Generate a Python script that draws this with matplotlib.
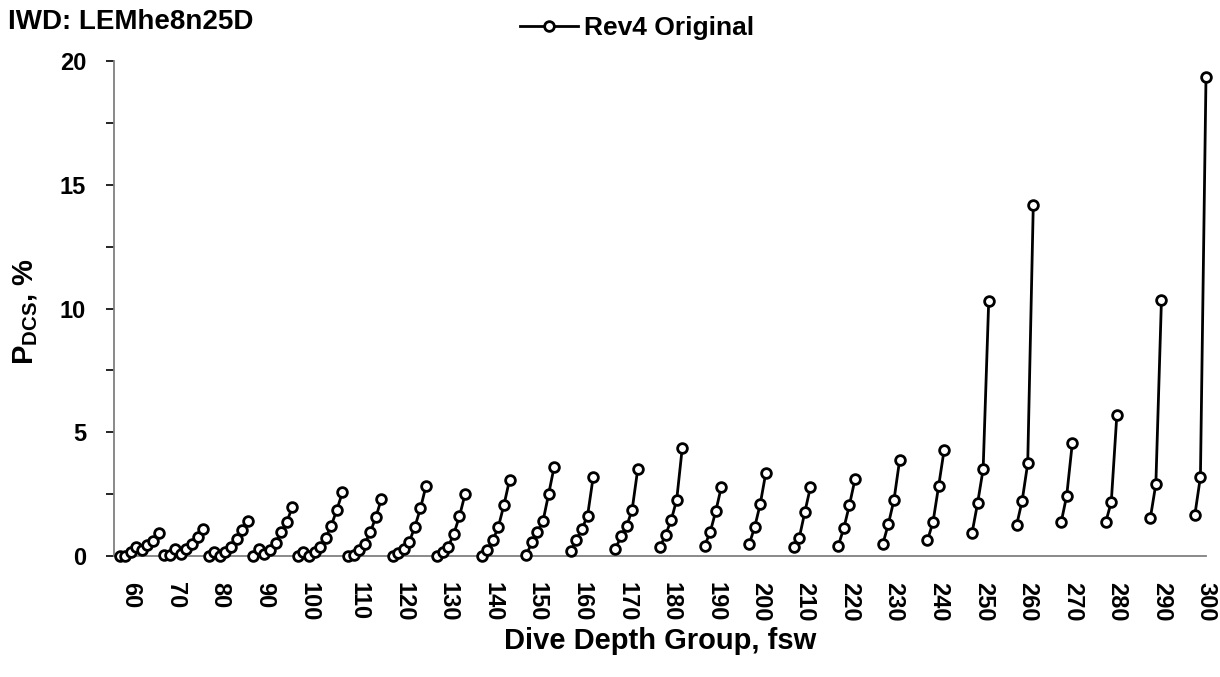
import matplotlib
matplotlib.use("Agg")
import matplotlib.pyplot as plt
from matplotlib.ticker import MultipleLocator
import numpy as np

# ---- data -------------------------------------------------------------
depth_groups = [60, 70, 80, 90, 100, 110, 120, 130, 140, 150, 160, 170, 180,
                190, 200, 210, 220, 230, 240, 250, 260, 270, 280, 290, 300]
points_per_group = [8, 8, 8, 8, 9, 7, 7, 6, 6, 6, 5, 5, 5,
                    4, 4, 4, 4, 4, 4, 4, 4, 3, 3, 3, 3]
slots_per_group = [8, 8, 8, 8, 9, 8, 8, 8, 8, 8, 8, 8, 8,
                   8, 8, 8, 8, 8, 8, 8, 8, 8, 8, 8, 8]
pdcs_values = [
    0.02, 0.02, 0.16, 0.37, 0.23, 0.45, 0.61, 0.94,          # 60
    0.03, 0.03, 0.27, 0.10, 0.27, 0.49, 0.78, 1.09,          # 70
    0.02, 0.15, 0.02, 0.17, 0.36, 0.67, 1.04, 1.43,          # 80
    0.02, 0.29, 0.08, 0.23, 0.53, 0.95, 1.37, 1.97,          # 90
    0.02, 0.15, 0.02, 0.15, 0.36, 0.74, 1.23, 1.87, 2.57,    # 100
    0.02, 0.06, 0.25, 0.50, 0.96, 1.57, 2.31,                # 110
    0.02, 0.12, 0.30, 0.57, 1.18, 1.92, 2.83,                # 120
    0.02, 0.15, 0.38, 0.90, 1.60, 2.49,                      # 130
    0.02, 0.25, 0.63, 1.19, 2.07, 3.08,                      # 140
    0.03, 0.56, 0.96, 1.41, 2.49, 3.60,                      # 150
    0.22, 0.65, 1.10, 1.63, 3.18,                            # 160
    0.29, 0.79, 1.20, 1.87, 3.50,                            # 170
    0.36, 0.86, 1.44, 2.28, 4.38,                            # 180
    0.40, 0.96, 1.80, 2.78,                                  # 190
    0.47, 1.17, 2.11, 3.37,                                  # 200
    0.36, 0.74, 1.78, 2.78,                                  # 210
    0.42, 1.13, 2.06, 3.10,                                  # 220
    0.49, 1.30, 2.27, 3.86,                                  # 230
    0.63, 1.37, 2.81, 4.29,                                  # 240
    0.92, 2.13, 3.51, 10.30,                                 # 250
    1.24, 2.23, 3.74, 14.18,                                 # 260
    1.36, 2.44, 4.55,                                        # 270
    1.36, 2.19, 5.70,                                        # 280
    1.52, 2.91, 10.33,                                       # 290
    1.66, 3.20, 19.37,                                       # 300
]
series_name = "Rev4 Original"
chart_title = "IWD: LEMhe8n25D"
x_title = "Dive Depth Group, fsw"

# ---- style ------------------------------------------------------------
plt.rcParams["font.family"] = ["Liberation Sans", "DejaVu Sans"]
plt.rcParams["font.weight"] = "bold"
plt.rcParams["mathtext.fontset"] = "custom"
plt.rcParams["mathtext.rm"] = "Liberation Sans"
plt.rcParams["mathtext.bf"] = "Liberation Sans:bold"

W, H = 1220, 677
fig = plt.figure(figsize=(W / 100, H / 100), dpi=100)
ax = fig.add_axes([114 / W, 121 / H, 1092 / W, 495 / H])

first_slot = 1
label_offset = 2
start = first_slot
idx = 0
tick_pos = []
line_kw = dict(color="black", lw=2.0, marker="o", ms=7.0, mfc="white",
               mec="black", mew=2.0, clip_on=False, zorder=3)
for gi, (depth, n, s) in enumerate(zip(depth_groups, points_per_group, slots_per_group)):
    xs = np.arange(start, start + n)
    ys = pdcs_values[idx:idx + n]
    ax.plot(xs, ys, label=series_name if gi == 0 else "_nolegend_", **line_kw)
    tick_pos.append(start + label_offset)
    start += s
    idx += n

n_slots = first_slot + sum(slots_per_group[:-1]) + points_per_group[-1] - 1
ax.set_xlim(0, n_slots)
ax.set_ylim(0, 20)

ax.set_xticks(tick_pos)
ax.set_xticklabels([str(d) for d in depth_groups], rotation=270,
                   fontsize=17, fontweight="bold", va="top", ha="center")
ax.tick_params(axis="x", length=0, pad=19)

ax.yaxis.set_major_locator(MultipleLocator(5))
ax.yaxis.set_minor_locator(MultipleLocator(2.5))
ax.tick_params(axis="y", which="both", direction="out", length=6, width=1.2,
               color="black", labelsize=17, pad=14)
for lab in ax.get_yticklabels():
    lab.set_fontweight("bold")

for side in ("top", "right"):
    ax.spines[side].set_visible(False)
for side in ("left", "bottom"):
    ax.spines[side].set_color("#808080")
    ax.spines[side].set_linewidth(1.3)

fig.text(8 / W, 1 - 22 / H, chart_title, fontsize=20, fontweight="bold",
         ha="left", va="center")
fig.text(660 / W, 1 - 641 / H, x_title, fontsize=21, fontweight="bold",
         ha="center", va="center")
fig.text(26 / W, 1 - 312 / H, r"$\mathbf{P}_{\mathbf{DCS}}$, %", fontsize=21,
         fontweight="bold", rotation=90, ha="center", va="center")

fig.legend(loc="center", bbox_to_anchor=(637 / W, 1 - 28 / H), frameon=False,
           handlelength=2.2, handletextpad=0.2, numpoints=1,
           prop={"weight": "bold", "size": 19})

fig.savefig("out.png", dpi=100)
